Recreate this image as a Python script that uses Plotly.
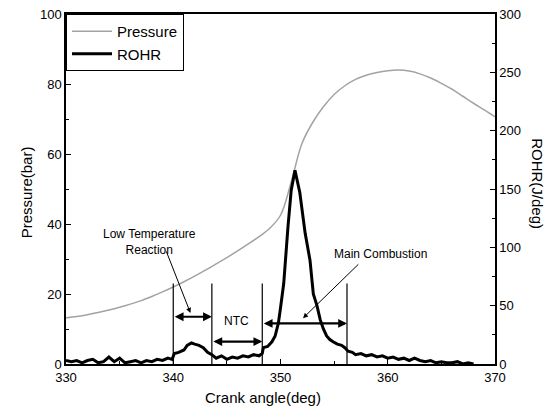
import plotly.graph_objects as go

# ---- data ----
pressure_angle = list(range(330, 371))
pressure_bar = [13.2, 13.6, 14.1, 14.7, 15.4, 16.2, 17.1, 18.1, 19.3, 20.6,
                22.0, 23.5, 25.1, 26.8, 28.6, 30.4, 32.3, 34.3, 36.4, 38.8,
                42.5, 52.0, 63.0, 69.0, 73.5, 77.0, 79.5, 81.3, 82.5, 83.3,
                83.8, 84.0, 83.7, 82.9, 81.7, 80.2, 78.5, 76.5, 74.5, 72.6,
                70.6]

rohr_angle = [330.0, 330.5, 331.0, 331.5, 332.0, 332.5, 333.0, 333.5, 334.0, 334.5,
              335.0, 335.5, 336.0, 336.5, 337.0, 337.5, 338.0, 338.5, 339.0, 339.5,
              339.9, 340.1, 340.5, 341.0, 341.3, 341.7, 342.0, 342.4, 342.8, 343.2,
              343.6, 344.0, 344.5, 345.0, 345.5, 346.0, 346.5, 347.0, 347.5, 348.0,
              348.3, 348.4, 348.8, 349.2, 349.5, 349.8, 350.0, 350.3, 350.7, 351.0,
              351.35, 351.8, 352.3, 352.75, 353.06, 353.4, 353.7, 354.0, 354.3, 354.6,
              354.9, 355.3, 355.7, 356.0, 356.3, 356.7, 357.0, 357.5, 358.0, 358.5,
              359.0, 359.5, 360.0, 360.5, 361.0, 361.5, 362.0, 362.5, 363.0, 363.5,
              364.0, 364.5, 365.0, 365.5, 366.0, 366.5, 367.0, 367.5, 368.0]
rohr_jdeg = [3, 2, 3, 1, 3, 4, 1, 2, 6, 2,
             5, 1, 2, 3, 1, 3, 2, 4, 3, 5,
             4, 9, 10, 12, 16, 18, 17, 16, 14, 10,
             8, 5, 7, 4, 6, 5, 7, 6, 8, 7,
             9, 14, 15, 19, 24, 35, 48, 69, 118, 149,
             166, 147, 112, 89, 60, 50, 38, 30, 24, 21,
             19, 17, 16, 14, 11, 10, 8, 9, 7, 8,
             6, 7, 5, 6, 4, 5, 3, 5, 3, 2,
             3, 1, 2, 1, 1, 2, 0, 1, 0]

phase_bounds = [340.0, 343.6, 348.3, 356.2]

x_ticks = [330, 340, 350, 360, 370]
y_left_ticks = [0, 20, 40, 60, 80, 100]
y_right_ticks = [0, 50, 100, 150, 200, 250, 300]

FONT = "Liberation Sans, Arial, sans-serif"

fig = go.Figure()
fig.add_trace(go.Scatter(x=pressure_angle, y=pressure_bar, name="Pressure",
                         mode="lines", line=dict(color="#a3a3a3", width=1.5, shape="spline"),
                         yaxis="y"))
fig.add_trace(go.Scatter(x=rohr_angle, y=rohr_jdeg, name="ROHR",
                         mode="lines", line=dict(color="black", width=3),
                         yaxis="y2"))

# vertical phase boundaries
for b in phase_bounds:
    fig.add_shape(type="line", x0=b, x1=b, y0=0, y1=23, xref="x", yref="y",
                  line=dict(color="black", width=1.2))

# double-headed arrows
arrow_rows = [(phase_bounds[0], phase_bounds[1], 13.5),
              (phase_bounds[1], phase_bounds[2], 6.4),
              (phase_bounds[2], phase_bounds[3], 11.6)]
for x0, x1, yy in arrow_rows:
    fig.add_annotation(x=x1, y=yy, ax=x0, ay=yy, xref="x", yref="y", axref="x", ayref="y",
                       showarrow=True, arrowhead=2, startarrowhead=2, arrowside="end+start",
                       arrowsize=0.8, startarrowsize=0.8, arrowwidth=2.2, arrowcolor="black", text="")

# pointer arrows
fig.add_annotation(x=341.6, y=14.6, ax=339.3, ay=32.6, xref="x", yref="y", axref="x", ayref="y",
                   showarrow=True, arrowhead=2, arrowsize=1, arrowwidth=1, arrowcolor="black", text="")
fig.add_annotation(x=352.1, y=13.1, ax=357.4, ay=28.9, xref="x", yref="y", axref="x", ayref="y",
                   showarrow=True, arrowhead=2, arrowsize=1, arrowwidth=1, arrowcolor="black", text="")

txt = dict(showarrow=False, xanchor="center", yanchor="middle")
fig.add_annotation(x=337.8, y=34.8, xref="x", yref="y", text="Low Temperature<br>Reaction",
                   font=dict(family=FONT, size=12, color="black"), **txt)
fig.add_annotation(x=345.9, y=12.4, xref="x", yref="y", text="NTC",
                   font=dict(family=FONT, size=12, color="black"), **txt)
fig.add_annotation(x=359.3, y=31.4, xref="x", yref="y", text="Main Combustion",
                   font=dict(family=FONT, size=12, color="black"), **txt)

# axis titles
fig.add_annotation(x=-0.093, y=0.491, xref="paper", yref="paper", text="Pressure(bar)",
                   textangle=-90, font=dict(family=FONT, size=15, color="black"), **txt)
fig.add_annotation(x=1.10, y=0.514, xref="paper", yref="paper", text="ROHR(J/deg)",
                   textangle=90, font=dict(family=FONT, size=15, color="black"), **txt)
fig.add_annotation(x=0.459, y=-0.097, xref="paper", yref="paper", text="Crank angle(deg)",
                   font=dict(family=FONT, size=15, color="black"), **txt)

axis_common = dict(showline=True, linecolor="black", linewidth=1.5, ticks="inside",
                   ticklen=5, tickwidth=1.2, tickcolor="black", showgrid=False,
                   zeroline=False, automargin=False,
                   tickfont=dict(family=FONT, size=13, color="black"))

fig.update_layout(
    width=558, height=419,
    margin=dict(l=66, r=63, t=14, b=55),
    paper_bgcolor="white", plot_bgcolor="white",
    showlegend=True,
    legend=dict(x=0, y=1, xanchor="left", yanchor="top", bordercolor="black", borderwidth=1,
                bgcolor="white", font=dict(family=FONT, size=15, color="black"),
                tracegroupgap=0, itemwidth=40),
    xaxis=dict(range=[330, 370], tickvals=x_ticks, mirror=True, ticklabelstandoff=1,
               minor=dict(dtick=5, ticks="inside", ticklen=3, tickcolor="black"),
               **axis_common),
    yaxis=dict(range=[0, 100], tickvals=y_left_ticks,
               minor=dict(dtick=10, ticks="inside", ticklen=3, tickcolor="black"),
               **axis_common),
    yaxis2=dict(range=[0, 300], tickvals=y_right_ticks, overlaying="y", side="right",
                minor=dict(dtick=25, ticks="inside", ticklen=3, tickcolor="black"),
                **axis_common),
)

fig.write_html("out.html", config={"displayModeBar": False},
               post_script="document.body.style.margin='0';document.body.style.overflow='hidden';")
